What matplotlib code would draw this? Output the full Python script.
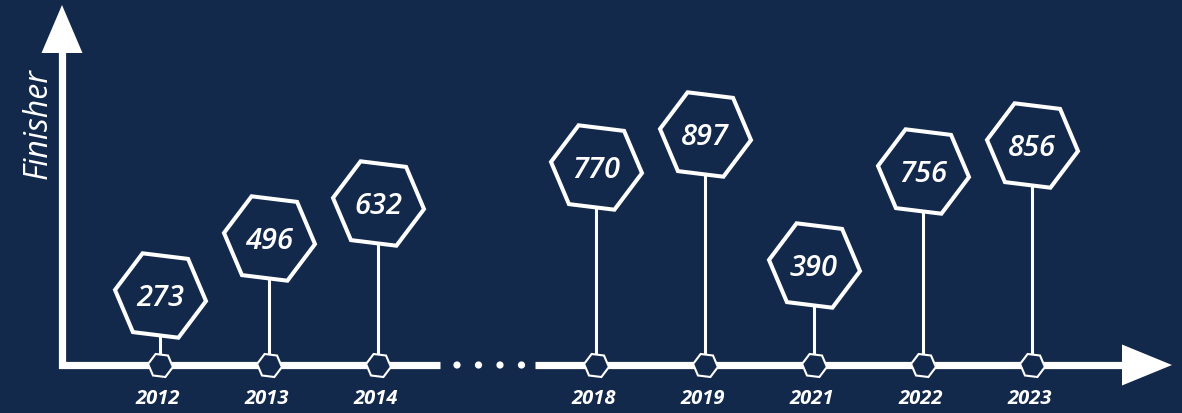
import matplotlib
matplotlib.use('Agg')
import matplotlib.pyplot as plt
from matplotlib.markers import MarkerStyle
from matplotlib.transforms import Affine2D
from matplotlib.patches import Polygon, Circle

# ---- data ----
years = ['2012', '2013', '2014', '2018', '2019', '2021', '2022', '2023']
finishers = [273, 496, 632, 770, 897, 390, 756, 856]
slots = [0, 1, 2, 4, 5, 6, 7, 8]   # slot 3 is the "..." gap
axis_label = 'Finisher'

BG = '#13294b'
FG = 'white'
FONT = 'Open Sans'
W, H = 1182, 413

fig = plt.figure(figsize=(W / 100, H / 100), dpi=100, facecolor=BG)

# ---- decoration layer in pixel coordinates ----
deco = fig.add_axes([0, 0, 1, 1])
deco.set_xlim(0, W)
deco.set_ylim(H, 0)
deco.axis('off')
deco.patch.set_alpha(0)

deco.plot([62, 62, 440], [50, 365, 365], color=FG, lw=5.2,
          solid_joinstyle='miter', solid_capstyle='butt')
deco.plot([535, 1126], [365, 365], color=FG, lw=5.2, solid_capstyle='butt')
deco.add_patch(Polygon([[62, 5], [41.5, 53], [82.5, 53]], closed=True, fc=FG, ec='none'))
deco.add_patch(Polygon([[1172, 365], [1122, 344.5], [1122, 385.5]], closed=True, fc=FG, ec='none'))
for xd in [457, 478.5, 500, 521.5]:
    deco.add_patch(Circle((xd, 365), 3.6, fc=FG, ec='none'))
deco.text(38, 124, axis_label, rotation=90, ha='center', va='center',
          color=FG, fontsize=23, fontstyle='italic', family=FONT)

# ---- data layer ----
ax = fig.add_axes([0, 0, 1, 1], facecolor='none')
px_per_slot, x0 = 109, 160
axis_y, ppu = 365, 0.257
ax.set_xlim(-x0 / px_per_slot, (W - x0) / px_per_slot)
ax.set_ylim(-(H - axis_y) / ppu, axis_y / ppu)
ax.axis('off')

ax.vlines(slots, 0, finishers, color=FG, lw=2.2, zorder=2)

big = MarkerStyle('H', transform=Affine2D().rotate_deg(-7))
small = MarkerStyle('H', transform=Affine2D().rotate_deg(-7))
ax.plot(slots, finishers, ls='none', marker=big, ms=66, mfc=BG, mec=FG, mew=2.9, zorder=3)
ax.plot(slots, [0] * len(slots), ls='none', marker=small, ms=18, mfc=BG, mec=FG,
        mew=1.5, zorder=3)

for s, v in zip(slots, finishers):
    ax.text(s, v, str(v), ha='center', va='center_baseline', color=FG, fontsize=21,
            fontstyle='italic', fontweight='semibold', family=FONT, zorder=4)

year_y = -(399 - axis_y) / ppu
for s, y in zip(slots, years):
    ax.text(s - 0.02, year_y, y, ha='center', va='center', color=FG, fontsize=14.5,
            fontstyle='italic', fontweight='bold', family=FONT)

fig.savefig('out.png', dpi=100, facecolor=BG)
